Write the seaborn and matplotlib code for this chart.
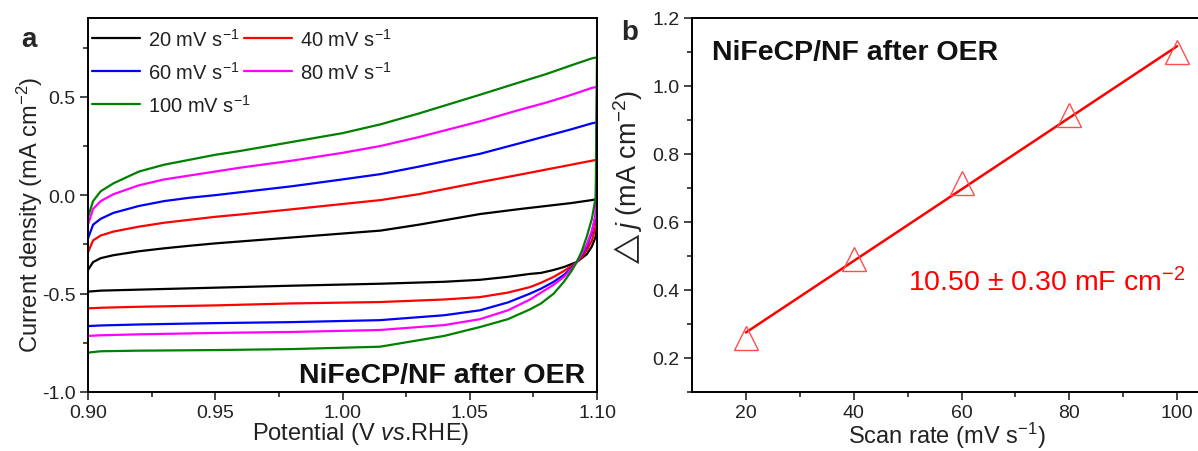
import numpy as np
import pandas as pd
import matplotlib
matplotlib.use("Agg")
import matplotlib.pyplot as plt
import seaborn as sns
from matplotlib.ticker import MultipleLocator, FixedLocator, FormatStrFormatter

# ---------------- data: panel a (CV curves) ----------------
scan_rates = [20, 40, 60, 80, 100]
cv_colors = ["#000000", "#ff0000", "#0000ff", "#ff00ff", "#008000"]

E_anodic = [0.900, 0.902, 0.905, 0.910, 0.920, 0.930, 0.940, 0.950, 0.960, 0.980,
            1.000, 1.015, 1.030, 1.054, 1.070, 1.080, 1.090, 1.098, 1.100]
j_anodic_20 = [-0.38, -0.34, -0.32, -0.305, -0.285, -0.27, -0.257, -0.245, -0.235, -0.215,
               -0.195, -0.18, -0.15, -0.096, -0.07, -0.055, -0.04, -0.025, -0.02]
j_anodic_40 = [-0.29, -0.23, -0.205, -0.185, -0.16, -0.14, -0.125, -0.11, -0.098, -0.072,
               -0.045, -0.025, 0.005, 0.066, 0.105, 0.13, 0.155, 0.175, 0.18]
j_anodic_60 = [-0.22, -0.15, -0.12, -0.09, -0.055, -0.03, -0.013, 0.0, 0.015, 0.045,
               0.08, 0.107, 0.145, 0.21, 0.265, 0.30, 0.335, 0.365, 0.37]
j_anodic_80 = [-0.15, -0.07, -0.03, 0.005, 0.05, 0.08, 0.10, 0.12, 0.14, 0.175,
               0.215, 0.25, 0.295, 0.375, 0.435, 0.47, 0.51, 0.545, 0.55]
j_anodic_100 = [-0.11, -0.03, 0.02, 0.06, 0.12, 0.155, 0.18, 0.205, 0.225, 0.27,
                0.315, 0.36, 0.415, 0.51, 0.575, 0.615, 0.66, 0.695, 0.70]

E_cathodic = [1.100, 1.0995, 1.098, 1.096, 1.094, 1.092, 1.090, 1.087, 1.083, 1.078,
              1.0737, 1.065, 1.054, 1.040, 1.0147, 0.980, 0.950, 0.920, 0.905, 0.900]
j_cathodic_20 = [-0.02, -0.21, -0.26, -0.30, -0.32, -0.34, -0.35, -0.365, -0.38, -0.395,
                 -0.40, -0.415, -0.43, -0.44, -0.45, -0.46, -0.47, -0.48, -0.485, -0.49]
j_cathodic_40 = [0.18, -0.16, -0.23, -0.28, -0.315, -0.34, -0.36, -0.385, -0.415, -0.445,
                 -0.467, -0.495, -0.518, -0.53, -0.543, -0.55, -0.56, -0.567, -0.572, -0.575]
j_cathodic_60 = [0.37, -0.10, -0.19, -0.26, -0.305, -0.34, -0.37, -0.405, -0.44, -0.475,
                 -0.50, -0.545, -0.585, -0.61, -0.635, -0.645, -0.65, -0.657, -0.662, -0.665]
j_cathodic_80 = [0.55, -0.10, -0.18, -0.25, -0.30, -0.34, -0.375, -0.415, -0.455, -0.495,
                 -0.53, -0.585, -0.63, -0.66, -0.685, -0.695, -0.70, -0.707, -0.712, -0.715]
j_cathodic_100 = [0.70, -0.01, -0.12, -0.21, -0.285, -0.34, -0.385, -0.44, -0.50, -0.55,
                  -0.58, -0.63, -0.67, -0.715, -0.77, -0.782, -0.787, -0.79, -0.793, -0.80]

# ---------------- data: panel b ----------------
rate_b = [20, 40, 60, 80, 100]
dj_b = [0.26, 0.49, 0.715, 0.915, 1.10]

# ---------------- style ----------------
sns.set_theme(style="ticks")
plt.rcParams["font.family"] = ["Liberation Sans", "DejaVu Sans"]
plt.rcParams["mathtext.fontset"] = "custom"
plt.rcParams["mathtext.rm"] = "Liberation Sans"
plt.rcParams["mathtext.it"] = "Liberation Sans:italic"
plt.rcParams["mathtext.bf"] = "Liberation Sans:bold"
plt.rcParams["mathtext.fallback"] = "stixsans"
plt.rcParams["axes.unicode_minus"] = False

TICK_FS = 14
XLABEL_FS = 17
TXT_GREY = "#222222"

fig = plt.figure(figsize=(11.98, 4.52), dpi=100)
axA = fig.add_axes([88 / 1198, 59 / 452, 509 / 1198, 374 / 452])
axB = fig.add_axes([692 / 1198, 59 / 452, 539 / 1198, 374 / 452])

# ---------------- panel a ----------------
anodic = [j_anodic_20, j_anodic_40, j_anodic_60, j_anodic_80, j_anodic_100]
cathodic = [j_cathodic_20, j_cathodic_40, j_cathodic_60, j_cathodic_80, j_cathodic_100]
for rate, col, ja, jc in zip(scan_rates, cv_colors, anodic, cathodic):
    df = pd.DataFrame({"E": list(E_anodic) + list(E_cathodic), "j": list(ja) + list(jc)})
    sns.lineplot(data=df, x="E", y="j", sort=False, estimator=None, color=col,
                 lw=1.6, ax=axA, label=f"{rate} mV s$^{{-1}}$")
h, l = axA.get_legend_handles_labels()
order = [0, 2, 4, 1, 3]
leg = axA.legend([h[i] for i in order], [l[i] for i in order], ncol=2, frameon=False,
                 loc="upper left", bbox_to_anchor=(0.0, 0.985), borderaxespad=0.2,
                 borderpad=0.0, fontsize=14.5, handlelength=2.4, handletextpad=0.4,
                 columnspacing=-0.35, labelspacing=0.55)
for t in leg.get_texts():
    t.set_color(TXT_GREY)

axA.set_xlim(0.9, 1.1)
axA.set_ylim(-1.0, 0.9)
axA.xaxis.set_major_locator(MultipleLocator(0.05))
axA.xaxis.set_minor_locator(MultipleLocator(0.025))
axA.yaxis.set_major_locator(MultipleLocator(0.5))
axA.yaxis.set_minor_locator(MultipleLocator(0.25))
axA.xaxis.set_major_formatter(FormatStrFormatter("%.2f"))
axA.yaxis.set_major_formatter(FormatStrFormatter("%.1f"))
axA.set_xlabel("Potential (V $\\mathit{vs}$.RHE)", fontsize=XLABEL_FS, color=TXT_GREY, labelpad=-1)
axA.set_ylabel("Current density (mA cm$^{-2}$)", fontsize=17, color=TXT_GREY, labelpad=-2)
axA.xaxis.label.set_x(0.535)
axA.yaxis.label.set_y(0.476)
axA.text(0.976, 0.045, "NiFeCP/NF after OER", transform=axA.transAxes, ha="right",
         va="center", fontsize=20.5, fontweight="bold", color="#111111")

# ---------------- panel b ----------------
dfb = pd.DataFrame({"rate": rate_b, "dj": dj_b})
sns.regplot(data=dfb, x="rate", y="dj", ci=None, scatter=False, ax=axB,
            line_kws=dict(color="#ff0000", lw=1.8))
sns.lineplot(data=dfb, x="rate", y="dj", ax=axB, linestyle="", marker="^",
             markersize=17, markerfacecolor="none", markeredgecolor="#ff4d4d",
             markeredgewidth=1.0, estimator=None)
axB.set_xlim(10, 110)
axB.set_ylim(0.1, 1.2)
axB.xaxis.set_major_locator(FixedLocator([20, 40, 60, 80, 100]))
axB.xaxis.set_minor_locator(FixedLocator([30, 50, 70, 90]))
axB.yaxis.set_major_locator(MultipleLocator(0.2))
axB.yaxis.set_minor_locator(MultipleLocator(0.1))
axB.yaxis.set_major_formatter(FormatStrFormatter("%.1f"))
axB.set_xlabel("Scan rate (mV s$^{-1}$)", fontsize=XLABEL_FS, color=TXT_GREY, labelpad=-1)
axB.set_ylabel("$\\triangle\\mathit{j}$ (mA cm$^{-2}$)", fontsize=19.5,
               color=TXT_GREY, labelpad=5)
axB.xaxis.label.set_x(0.473)
axB.yaxis.label.set_y(0.572)
axB.text(13.7, 1.10, "NiFeCP/NF after OER", ha="left", va="center", fontsize=20.5,
         fontweight="bold", color="#111111")
axB.text(50.0, 0.425, "10.50 \u00b1 0.30 mF cm$^{-2}$", ha="left", va="center",
         fontsize=20.5, color="#ff0000")

for ax in (axA, axB):
    for sp in ax.spines.values():
        sp.set_visible(True)
        sp.set_linewidth(1.4)
        sp.set_color("black")
    ax.tick_params(which="major", direction="out", length=5.5, width=1.2, labelsize=TICK_FS,
                   labelcolor=TXT_GREY, pad=3.5, top=False, right=False)
    ax.tick_params(which="minor", direction="out", length=3.5, width=1.2, top=False, right=False)
    ax.grid(False)

fig.text(29 / 1198, 1 - 40 / 452, "a", ha="center", va="center", fontsize=20, fontweight="bold")
fig.text(630 / 1198, 1 - 33 / 452, "b", ha="center", va="center", fontsize=20, fontweight="bold")

fig.savefig("out.png", dpi=100)
